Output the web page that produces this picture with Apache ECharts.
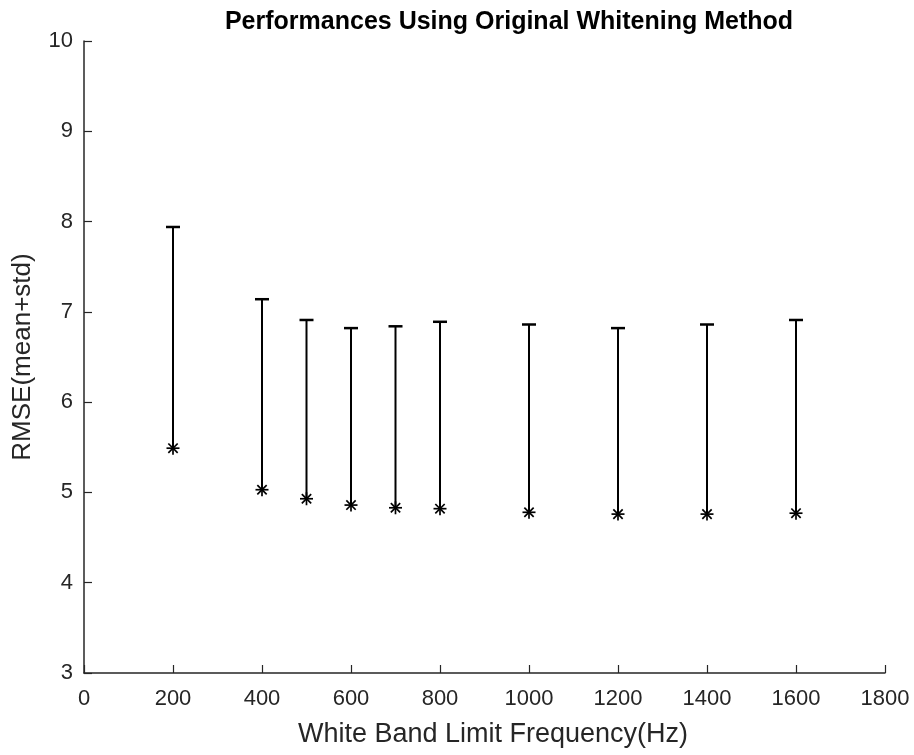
<!DOCTYPE html>
<html>
<head>
<meta charset="utf-8">
<title>Performances Using Original Whitening Method</title>
<script src="https://cdn.jsdelivr.net/npm/echarts@6/dist/echarts.min.js"></script>
<style>
  html, body { margin: 0; padding: 0; background: #ffffff; }
  #chart { width: 914px; height: 755px; }
</style>
</head>
<body>
<div id="chart"></div>
<script>
// White band limit frequencies (Hz)
const frequencies = [200, 400, 500, 600, 700, 800, 1000, 1200, 1400, 1600];
// Mean RMSE at each frequency
const rmseMean = [5.49, 5.03, 4.93, 4.86, 4.83, 4.82, 4.78, 4.76, 4.76, 4.77];
// Mean + std RMSE at each frequency
const rmseUpper = [7.94, 7.14, 6.91, 6.82, 6.84, 6.89, 6.86, 6.82, 6.86, 6.91];

const xTicks = [0, 200, 400, 600, 800, 1000, 1200, 1400, 1600, 1800];
const yTicks = [3, 4, 5, 6, 7, 8, 9, 10];

const FONT = '"Liberation Sans", Arial, Helvetica, sans-serif';
const AXIS_COLOR = '#262626';

const chart = echarts.init(document.getElementById('chart'), null, { renderer: 'canvas' });

const seriesData = frequencies.map((f, i) => [f, rmseMean[i], rmseUpper[i]]);

function renderErrorBar(params, api) {
  const x = api.value(0);
  const base = api.coord([x, api.value(1)]);
  const top = api.coord([x, api.value(2)]);
  const capHalf = 7;
  const r = 6.5;
  const d = r * 0.72;
  const line = (x1, y1, x2, y2, w) => ({
    type: 'line',
    shape: { x1, y1, x2, y2 },
    style: { stroke: '#000000', lineWidth: w || 2 }
  });
  return {
    type: 'group',
    children: [
      line(base[0], base[1], top[0], top[1]),
      line(top[0] - capHalf, top[1], top[0] + capHalf, top[1], 2.5),
      // asterisk marker at the mean
      line(base[0] - r, base[1], base[0] + r, base[1], 1.7),
      line(base[0], base[1] - r, base[0], base[1] + r, 1.7),
      line(base[0] - d, base[1] - d, base[0] + d, base[1] + d, 1.7),
      line(base[0] - d, base[1] + d, base[0] + d, base[1] - d, 1.7)
    ]
  };
}

chart.setOption({
  animation: false,
  backgroundColor: '#ffffff',
  title: {
    text: 'Performances Using Original Whitening Method',
    left: 504,
    top: 5,
    textAlign: 'center',
    textStyle: { fontFamily: FONT, fontWeight: 'bold', fontSize: 25, color: '#000000' }
  },
  grid: { left: 84, right: 29, top: 41, bottom: 82, containLabel: false },
  xAxis: {
    type: 'value',
    min: xTicks[0],
    max: xTicks[xTicks.length - 1],
    interval: 200,
    name: 'White Band Limit Frequency(Hz)',
    nameLocation: 'middle',
    nameGap: 48,
    nameTextStyle: { fontFamily: FONT, fontSize: 27, color: AXIS_COLOR, padding: [0, 0, 0, 17] },
    axisLine: { show: true, lineStyle: { color: AXIS_COLOR, width: 1.5 } },
    axisTick: { show: true, inside: true, length: 8, lineStyle: { color: AXIS_COLOR, width: 1.2 } },
    axisLabel: {
      fontFamily: FONT, fontSize: 22, color: AXIS_COLOR, margin: 15,
      formatter: v => String(v)
    },
    splitLine: { show: false }
  },
  yAxis: {
    type: 'value',
    min: yTicks[0],
    max: yTicks[yTicks.length - 1],
    interval: 1,
    name: 'RMSE(mean+std)',
    nameLocation: 'middle',
    nameGap: 48,
    nameTextStyle: { fontFamily: FONT, fontSize: 26, color: AXIS_COLOR },
    axisLine: { show: true, lineStyle: { color: AXIS_COLOR, width: 1.5 } },
    axisTick: { show: true, inside: true, length: 8, lineStyle: { color: AXIS_COLOR, width: 1.2 } },
    axisLabel: {
      fontFamily: FONT, fontSize: 22, color: AXIS_COLOR, margin: 11,
      formatter: v => String(v)
    },
    splitLine: { show: false }
  },
  series: [{
    type: 'custom',
    renderItem: renderErrorBar,
    encode: { x: 0, y: [1, 2] },
    data: seriesData,
    clip: false
  }]
});
</script>
</body>
</html>
